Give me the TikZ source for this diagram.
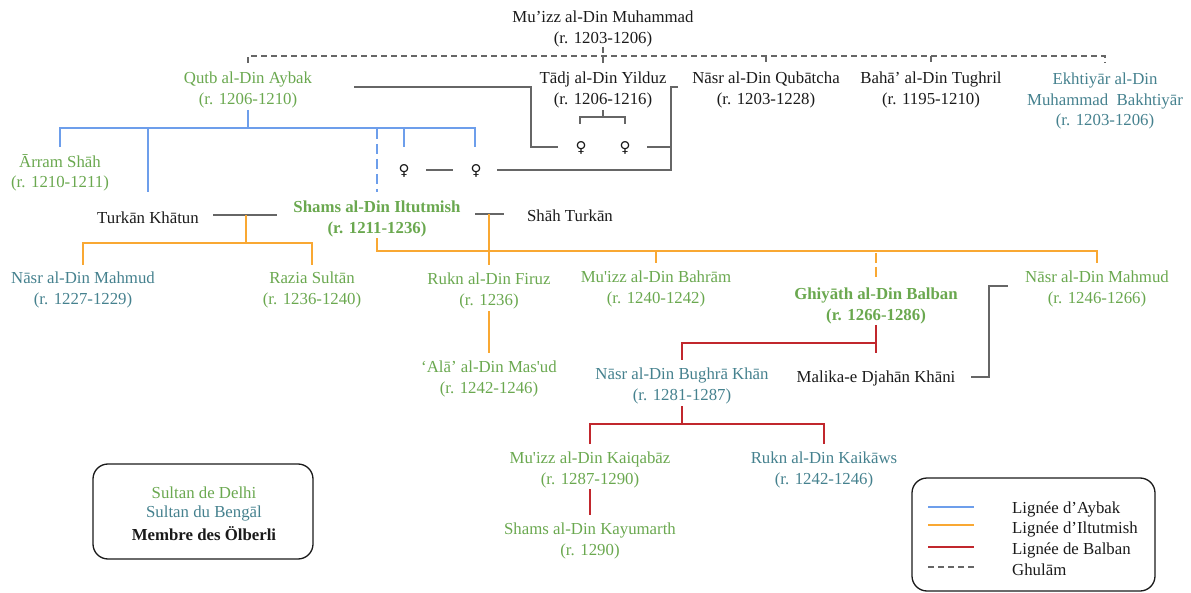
\documentclass[tikz,border=0pt]{standalone}
\usepackage{fontspec}
\setmainfont{Liberation Serif}
\newfontfamily\symfont{DejaVu Sans}
\definecolor{cgreen}{HTML}{6AA84F}
\definecolor{cteal}{HTML}{45818E}
\definecolor{cblue}{HTML}{6D9EEB}
\definecolor{corange}{HTML}{F9A833}
\definecolor{cred}{HTML}{C1272D}
\definecolor{cgray}{HTML}{666666}
\definecolor{cblack}{HTML}{1A1A1A}
\tikzset{
  lbl/.style={align=center, inner sep=0pt, font=\fontsize{16.8}{20.5}\selectfont},
  blbl/.style={align=center, inner sep=0pt, font=\fontsize{16.8}{20.5}\selectfont\bfseries},
  delhi/.style={lbl, text=cgreen},
  bdelhi/.style={blbl, text=cgreen},
  bengal/.style={lbl, text=cteal},
  other/.style={lbl, text=cblack},
  fem/.style={inner sep=0pt, font=\symfont\fontsize{15}{18}\selectfont, text=cblack},
  aybakline/.style={draw=cblue, line width=1.4pt},
  iltutline/.style={draw=corange, line width=1.4pt},
  balbanline/.style={draw=cred, line width=1.4pt},
  ghulline/.style={draw=cgray, line width=1.3pt, dash pattern=on 6pt off 4pt},
  linkline/.style={draw=cgray, line width=1.3pt},
  legbox/.style={draw=cblack, line width=1.3pt, rounded corners=15pt},
}
\begin{document}
\begin{tikzpicture}[x=1pt,y=-1pt]
\useasboundingbox (0,0) rectangle (1191,593);

% ---- nodes ----
\node[other]  (muizz)  at (603,29)   {Mu’izz al-Din Muhammad\\(r. 1203-1206)};
\node[delhi]  (qutb)   at (248,90)   {Qutb al-Din Aybak\\(r. 1206-1210)};
\node[other]  (tadj)   at (603,90)   {Tādj al-Din Yilduz\\(r. 1206-1216)};
\node[other]  (nasrq)  at (766,90)   {Nāsr al-Din Qubātcha\\(r. 1203-1228)};
\node[other]  (baha)   at (931,90)   {Bahā’ al-Din Tughril\\(r. 1195-1210)};
\node[bengal] (ekht)   at (1105,101) {Ekhtiyār al-Din\\Muhammad\ \ Bakhtiyār\\(r. 1203-1206)};
\node[delhi]  (arram)  at (60,173)   {Ārram Shāh\\(r. 1210-1211)};
\node[other]  (turkan) at (148,218)  {Turkān Khātun};
\node[bdelhi] (shams)  at (377,219)  {Shams al-Din Iltutmish\\(r. 1211-1236)};
\node[other]  (shah)   at (570,216)  {Shāh Turkān};
\node[bengal] (nasrma) at (83,290)   {Nāsr al-Din Mahmud\\(r. 1227-1229)};
\node[delhi]  (razia)  at (312,290)  {Razia Sultān\\(r. 1236-1240)};
\node[delhi]  (rukn)   at (489,291)  {Rukn al-Din Firuz\\(r. 1236)};
\node[delhi]  (bahram) at (656,289)  {Mu\textquotesingle izz al-Din Bahrām\\(r. 1240-1242)};
\node[bdelhi] (balban) at (876,306)  {Ghiyāth al-Din Balban\\(r. 1266-1286)};
\node[delhi]  (nasrmb) at (1097,289) {Nāsr al-Din Mahmud\\(r. 1246-1266)};
\node[delhi]  (alad)   at (489,379)  {‘Alā’ al-Din Mas\textquotesingle ud\\(r. 1242-1246)};
\node[bengal] (bughra) at (682,386)  {Nāsr al-Din Bughrā Khān\\(r. 1281-1287)};
\node[other]  (malika) at (876,378)  {Malika-e Djahān Khāni};
\node[delhi]  (kaiq)   at (590,470)  {Mu\textquotesingle izz al-Din Kaiqabāz\\(r. 1287-1290)};
\node[bengal] (kaik)   at (824,470)  {Rukn al-Din Kaikāws\\(r. 1242-1246)};
\node[delhi]  (kayu)   at (590,541)  {Shams al-Din Kayumarth\\(r. 1290)};

\node[fem] (f1) at (581,148) {♀};
\node[fem] (f2) at (625,148) {♀};
\node[fem] (f3) at (404,171) {♀};
\node[fem] (f4) at (476,171) {♀};

% ---- ghulam (dashed) ----
\draw[ghulline] (248,63) -- (248,56) -- (1105,56) -- (1105,63);
\draw[ghulline] (603,47) -- (603,64);
\draw[linkline] (766,56) -- (766,62);
\draw[linkline] (931,56) -- (931,62);

% ---- marriages / links ----
\draw[linkline] (354,87) -- (531,87) -- (531,147) -- (558,147);
\draw[linkline] (603,110) -- (603,117);
\draw[linkline] (580,124) -- (580,117) -- (625,117) -- (625,124);
\draw[linkline] (647,147) -- (671,147);
\draw[linkline] (678,87) -- (671,87) -- (671,170) -- (497,170);
\draw[linkline] (426,170) -- (453,170);
\draw[linkline] (213,215) -- (277,215);
\draw[linkline] (475,214) -- (504,214);
\draw[linkline] (971,377) -- (989,377) -- (989,286) -- (1008,286);

% ---- Aybak line ----
\draw[aybakline] (248,110) -- (248,128);
\draw[aybakline] (60,147) -- (60,128) -- (475,128) -- (475,147);
\draw[aybakline] (148,128) -- (148,192);
\draw[aybakline] (404,128) -- (404,147);
\draw[aybakline, dash pattern=on 10pt off 5pt] (377,129) -- (377,192);

% ---- Iltutmish line ----
\draw[iltutline] (246,215) -- (246,243);
\draw[iltutline] (83,265) -- (83,243) -- (312,243) -- (312,265);
\draw[iltutline] (377,238) -- (377,251) -- (1097,251) -- (1097,263);
\draw[iltutline] (489,214) -- (489,265);
\draw[iltutline] (656,251) -- (656,263);
\draw[iltutline, dash pattern=on 10pt off 4pt] (876,253) -- (876,278);
\draw[iltutline] (489,311) -- (489,353);

% ---- Balban line ----
\draw[balbanline] (876,325) -- (876,353);
\draw[balbanline] (682,360) -- (682,343) -- (876,343);
\draw[balbanline] (682,406) -- (682,424);
\draw[balbanline] (590,444) -- (590,424) -- (824,424) -- (824,444);
\draw[balbanline] (590,489) -- (590,515);

% ---- legend left ----
\draw[legbox] (93,464) rectangle (313,559);
\node[delhi]  (legd) at (204,493) {Sultan de Delhi};
\node[bengal] (legb) at (204,513) {Sultan du Bengāl};
\node[blbl, text=cblack] (lego) at (204,534) {Membre des Ölberli};

% ---- legend right ----
\draw[legbox] (912,478) rectangle (1155,591);
\coordinate (la1) at (928,507); \coordinate (lb1) at (974,507);
\coordinate (la2) at (928,525); \coordinate (lb2) at (974,525);
\coordinate (la3) at (928,547); \coordinate (lb3) at (974,547);
\coordinate (la4) at (928,567); \coordinate (lb4) at (974,567);
\draw[aybakline] (la1) -- (lb1);
\draw[iltutline] (la2) -- (lb2);
\draw[balbanline] (la3) -- (lb3);
\draw[ghulline] (la4) -- (lb4);
\node[other, anchor=west] (lt1) at (1012,509) {Lignée d’Aybak};
\node[other, anchor=west] (lt2) at (1012,529) {Lignée d’Iltutmish};
\node[other, anchor=west] (lt3) at (1012,550) {Lignée de Balban};
\node[other, anchor=west] (lt4) at (1012,570) {Ghulām};
\end{tikzpicture}
\end{document}
